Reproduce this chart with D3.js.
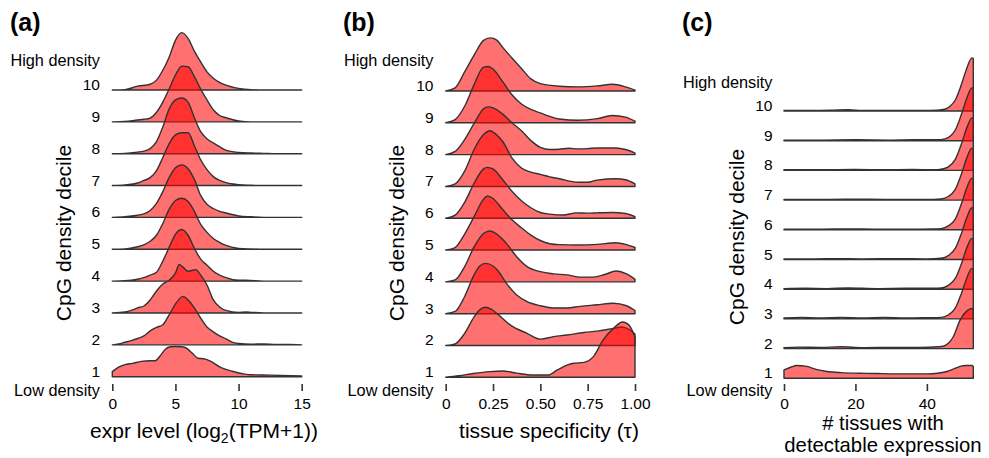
<!DOCTYPE html>
<html>
<head>
<meta charset="utf-8">
<script src="https://cdn.jsdelivr.net/npm/d3@7"></script>
<style>
  body { margin: 0; background: #fff; }
  svg { display: block; }
  text { font-family: "Liberation Sans", Arial, Helvetica, sans-serif; fill: #000; }
</style>
</head>
<body>
<svg id="chart" width="989" height="458"></svg>
<script>
// CpG density deciles, bottom (1 = low density) to top (10 = high density)
const deciles = [1, 2, 3, 4, 5, 6, 7, 8, 9, 10];

// Ridge heights are scaled densities: 1 = one row of the ridge stack.
// Each decile is a list of [x, scaled density] pairs.

// (a) expression level, log2(TPM+1)
const exprRidges = [
  [[0,0.16],[0.5,0.3],[1,0.38],[1.6,0.42],[2.3,0.48],[3,0.5],[3.4,0.5],[3.8,0.66],[4.2,0.86],[4.6,0.94],[5,0.95],[5.5,0.94],[5.9,0.89],[6.3,0.75],[6.8,0.58],[7.3,0.56],[7.8,0.48],[8.5,0.31],[9.5,0.17],[10.5,0.08],[11,0.06],[12.5,0.05],[15,0.02]],
  [[0,0],[0.5,0.03],[1,0.08],[1.5,0.13],[2,0.2],[2.5,0.28],[3,0.44],[3.5,0.55],[4,0.63],[4.5,0.94],[5,1.28],[5.6,1.52],[6,1.41],[6.5,1.16],[7,0.84],[7.5,0.56],[8,0.41],[8.5,0.28],[9,0.19],[9.6,0.07],[10,0.04],[11,0.02],[12,0.03],[13,0.01],[14,0.01],[15,0]],
  [[0,0],[1,0.03],[1.5,0.08],[2,0.16],[2.5,0.22],[3,0.41],[3.5,0.69],[4,0.91],[4.5,1.03],[5,1.25],[5.3,1.52],[5.6,1.44],[6,1.31],[6.6,1.36],[7,1.19],[7.5,0.88],[8,0.41],[8.5,0.19],[9,0.08],[10,0.02],[10.6,0.03],[11,0.02],[12,0],[15,0]],
  [[0,0],[1,0.01],[2,0.06],[2.5,0.11],[3,0.19],[3.5,0.28],[4,0.63],[4.5,1.06],[5,1.47],[5.5,1.62],[6,1.44],[6.5,1.03],[7,0.69],[7.5,0.5],[8,0.31],[8.5,0.19],[9,0.11],[10,0.03],[10.6,0.03],[11,0.02],[12,0],[15,0]],
  [[0,0],[1,0.01],[2,0.08],[2.5,0.14],[3,0.25],[3.5,0.44],[4,0.81],[4.5,1.25],[5,1.53],[5.5,1.6],[6,1.5],[6.5,1.19],[7,0.78],[7.5,0.53],[8,0.34],[8.5,0.22],[9,0.12],[10,0.03],[11,0.01],[12,0],[15,0]],
  [[0,0],[1,0.02],[2,0.07],[2.5,0.11],[3,0.22],[3.5,0.44],[4,0.81],[4.5,1.25],[5,1.56],[5.5,1.65],[6,1.53],[6.5,1.19],[7,0.69],[7.5,0.41],[8,0.28],[8.5,0.19],[9,0.14],[10,0.05],[11,0.02],[12,0],[15,0]],
  [[0,0],[1,0.02],[2,0.08],[2.5,0.16],[3,0.25],[3.5,0.47],[4,0.88],[4.5,1.31],[5,1.59],[5.5,1.66],[6,1.66],[6.5,1.25],[7,0.81],[7.5,0.5],[8,0.28],[8.5,0.16],[9,0.09],[10,0.03],[11,0.01],[12,0],[15,0]],
  [[0,0],[1,0.01],[2,0.05],[2.5,0.08],[3,0.16],[3.5,0.38],[4,0.84],[4.5,1.4],[5,1.69],[5.5,1.75],[6,1.62],[6.5,1.13],[7,0.69],[7.5,0.47],[8,0.34],[8.5,0.22],[9,0.11],[10,0.04],[11,0.02],[12,0.01],[13,0],[15,0]],
  [[0,0],[1,0.01],[2,0.06],[2.5,0.08],[3,0.12],[3.5,0.3],[4,0.62],[4.5,1.03],[5,1.47],[5.5,1.75],[6,1.73],[6.5,1.42],[7,1.03],[7.5,0.69],[8,0.38],[8.5,0.2],[9,0.13],[10,0.03],[11,0],[15,0]],
  [[0,0],[1,0.01],[2,0.12],[3,0.18],[3.5,0.31],[4,0.62],[4.5,1.03],[5,1.56],[5.5,1.8],[6,1.62],[6.5,1.22],[7,0.88],[7.5,0.57],[8,0.37],[9,0.15],[10,0.05],[11,0.01],[12,0],[15,0]]
];
const exprTicks = [0, 5, 10, 15];
const exprTickLabels = ["0", "5", "10", "15"];

// (b) tissue specificity, tau
const tauRidges = [
  [[0,0],[0.07,0.05],[0.146,0.12],[0.234,0.18],[0.3,0.2],[0.375,0.13],[0.46,0.07],[0.54,0.07],[0.59,0.23],[0.64,0.38],[0.675,0.44],[0.73,0.47],[0.78,0.65],[0.83,1.16],[0.885,1.53],[0.935,1.74],[0.97,1.63],[1,1.27]],
  [[0,0],[0.05,0.05],[0.1,0.38],[0.15,0.9],[0.18,1.12],[0.21,1.2],[0.24,1.14],[0.27,1.01],[0.34,0.65],[0.43,0.38],[0.5,0.2],[0.57,0.28],[0.64,0.33],[0.73,0.41],[0.8,0.45],[0.88,0.53],[0.93,0.58],[0.97,0.5],[1,0.36]],
  [[0,0],[0.05,0.07],[0.1,0.54],[0.15,1.22],[0.18,1.5],[0.21,1.58],[0.25,1.5],[0.28,1.32],[0.32,0.96],[0.375,0.59],[0.43,0.38],[0.5,0.25],[0.57,0.18],[0.64,0.18],[0.71,0.23],[0.8,0.28],[0.885,0.33],[0.955,0.25],[1,0.1]],
  [[0,0],[0.05,0.06],[0.1,0.48],[0.15,1.1],[0.2,1.52],[0.234,1.6],[0.27,1.5],[0.32,1.21],[0.375,0.79],[0.43,0.48],[0.5,0.32],[0.57,0.25],[0.64,0.22],[0.71,0.15],[0.78,0.15],[0.84,0.23],[0.9,0.34],[0.955,0.25],[1,0.08]],
  [[0,0],[0.05,0.08],[0.1,0.5],[0.15,1.05],[0.2,1.6],[0.22,1.7],[0.25,1.62],[0.3,1.28],[0.35,0.95],[0.4,0.7],[0.45,0.47],[0.5,0.3],[0.55,0.2],[0.6,0.17],[0.7,0.16],[0.8,0.18],[0.9,0.23],[0.95,0.18],[1,0.08]],
  [[0,0],[0.05,0.1],[0.1,0.5],[0.15,1.1],[0.2,1.55],[0.22,1.6],[0.25,1.55],[0.3,1.22],[0.35,0.85],[0.4,0.55],[0.45,0.33],[0.5,0.18],[0.55,0.13],[0.62,0.1],[0.69,0.17],[0.75,0.16],[0.8,0.17],[0.88,0.18],[0.95,0.15],[1,0.05]],
  [[0,0],[0.05,0.08],[0.1,0.48],[0.15,1.16],[0.2,1.63],[0.235,1.75],[0.25,1.71],[0.3,1.42],[0.35,0.9],[0.4,0.58],[0.45,0.45],[0.5,0.38],[0.55,0.3],[0.6,0.24],[0.7,0.13],[0.75,0.13],[0.8,0.2],[0.9,0.24],[0.95,0.21],[1,0.08]],
  [[0,0],[0.05,0.1],[0.1,0.47],[0.15,0.98],[0.2,1.44],[0.225,1.5],[0.25,1.47],[0.3,1.28],[0.35,1.0],[0.4,0.75],[0.45,0.44],[0.5,0.23],[0.55,0.16],[0.6,0.17],[0.65,0.2],[0.7,0.18],[0.75,0.19],[0.8,0.21],[0.9,0.21],[0.95,0.16],[1,0.05]],
  [[0,0],[0.05,0.1],[0.1,0.52],[0.15,1.2],[0.2,1.75],[0.225,1.77],[0.25,1.69],[0.3,1.3],[0.35,0.88],[0.4,0.59],[0.45,0.42],[0.5,0.31],[0.55,0.2],[0.6,0.12],[0.7,0.08],[0.8,0.13],[0.88,0.23],[0.95,0.18],[1,0.05]],
  [[0,0],[0.05,0.1],[0.1,0.6],[0.15,1.13],[0.2,1.59],[0.235,1.67],[0.27,1.6],[0.3,1.38],[0.35,1.04],[0.4,0.71],[0.45,0.38],[0.5,0.23],[0.6,0.15],[0.7,0.13],[0.8,0.16],[0.88,0.21],[0.95,0.13],[1,0.03]]
];
const tauTicks = [0, 0.25, 0.5, 0.75, 1];
const tauTickLabels = ["0", "0.25", "0.50", "0.75", "1.00"];

// (c) number of tissues with detectable expression
const tissueRidges = [
  [[0,0.28],[2,0.38],[3.5,0.43],[6.4,0.4],[9,0.3],[12,0.23],[16,0.19],[21,0.17],[26,0.16],[31,0.15],[36,0.15],[40,0.15],[43,0.17],[45.6,0.23],[48,0.34],[49.3,0.4],[51,0.43],[52.6,0.43],[53,0.4]],
  [[0,0.03],[4,0.05],[10,0.04],[16,0.06],[22,0.03],[30,0.04],[38,0.04],[43,0.06],[44.6,0.08],[46,0.18],[47.4,0.4],[49.3,0.96],[51.2,1.27],[52.6,1.35],[53,1.32]],
  [[0,0.03],[5,0.05],[10,0.03],[16,0.05],[22,0.03],[28,0.05],[34,0.03],[40,0.04],[44,0.05],[46,0.13],[48,0.37],[49.8,0.9],[51.2,1.38],[52.6,1.7],[53,1.68]],
  [[0,0.02],[6,0.03],[12,0.02],[18,0.04],[26,0.02],[34,0.03],[42,0.03],[44,0.04],[46,0.13],[48,0.37],[49.8,0.9],[51.2,1.4],[52.6,1.71],[53,1.69]],
  [[0,0.02],[8,0.02],[15,0.03],[22,0.02],[32,0.03],[40,0.02],[44,0.04],[46,0.13],[48,0.38],[49.8,0.92],[51.2,1.42],[52.6,1.74],[53,1.72]],
  [[0,0.02],[10,0.02],[18,0.03],[26,0.02],[34,0.02],[42,0.03],[44,0.04],[46,0.13],[48,0.37],[49.8,0.92],[51.2,1.42],[52.6,1.74],[53,1.72]],
  [[0,0.02],[9,0.02],[17,0.03],[24,0.03],[32,0.02],[40,0.02],[44,0.04],[46,0.12],[48,0.37],[49.8,0.92],[51.2,1.43],[52.6,1.75],[53,1.73]],
  [[0,0.02],[10,0.02],[20,0.03],[28,0.02],[36,0.03],[42,0.02],[44,0.04],[46,0.12],[48,0.38],[49.8,0.93],[51.2,1.44],[52.6,1.77],[53,1.75]],
  [[0,0.02],[10,0.02],[20,0.03],[30,0.02],[36,0.03],[43,0.03],[45,0.06],[46.5,0.15],[48,0.37],[49.8,0.93],[51.2,1.44],[52.6,1.78],[53,1.76]],
  [[0,0.02],[8,0.02],[14,0.03],[18,0.04],[22,0.02],[30,0.02],[38,0.02],[43,0.03],[45,0.06],[46.5,0.16],[48,0.38],[49.8,0.94],[51.2,1.45],[52.6,1.79],[53,1.77]]
];
const tissueTicks = [0, 20, 40];
const tissueTickLabels = ["0", "20", "40"];

const svg = d3.select("#chart");
const FILL = "#ff0000", FILL_OPACITY = 0.56, LINE = "#333333";

const panels = [
  { letter: "(a)", letterX: 10, ridges: exprRidges, domain: [0, 15], xRange: [112.3, 301.7],
    rowRange: [376.7, 90], ticks: exprTicks, tickLabels: exprTickLabels, labelRight: 100,
    highY: 66, lowY: 396, yTitleX: 70.5, yTitleY: 233, titleX: 204, titleY: 438, title: "expr" },
  { letter: "(b)", letterX: 343, ridges: tauRidges, domain: [0, 1], xRange: [445.7, 635],
    rowRange: [377.3, 91], ticks: tauTicks, tickLabels: tauTickLabels, labelRight: 433.5,
    highY: 66, lowY: 396, yTitleX: 404, yTitleY: 233, titleX: 549, titleY: 437.5, title: "tau" },
  { letter: "(c)", letterX: 682, ridges: tissueRidges, domain: [0, 53], xRange: [784, 973.3],
    rowRange: [378.3, 111], ticks: tissueTicks, tickLabels: tissueTickLabels, labelRight: 772.5,
    highY: 88, lowY: 396, yTitleX: 744, yTitleY: 237, titleX: 883, titleY: 429.5, title: "tissues" }
];

panels.forEach(p => {
  const g = svg.append("g");
  const x = d3.scaleLinear().domain(p.domain).range(p.xRange);
  const row = d3.scalePoint().domain(deciles).range(p.rowRange);
  const ridgeH = d3.scaleLinear().domain([0, 1]).range([0, Math.abs(row(2) - row(1))]);

  // ridges: top decile first so lower rows overlay the ones above
  deciles.slice().reverse().forEach(dec => {
    const base = row(dec);
    const area = d3.area()
      .curve(d3.curveMonotoneX)
      .x(d => x(d[0]))
      .y0(base)
      .y1(d => base - ridgeH(d[1]));
    g.append("path")
      .attr("d", area(p.ridges[dec - 1]))
      .attr("fill", FILL)
      .attr("fill-opacity", FILL_OPACITY)
      .attr("stroke", LINE)
      .attr("stroke-width", 1.4)
      .attr("stroke-linejoin", "round");
  });

  // decile labels
  g.selectAll("text.dec").data(deciles).join("text")
    .attr("class", "dec")
    .attr("x", p.labelRight)
    .attr("y", d => row(d))
    .attr("text-anchor", "end")
    .style("font-size", "15.5px")
    .text(d => d);

  g.append("text").attr("x", p.labelRight).attr("y", p.highY)
    .attr("text-anchor", "end").style("font-size", "16.3px").text("High density");
  g.append("text").attr("x", p.labelRight).attr("y", p.lowY)
    .attr("text-anchor", "end").style("font-size", "16.3px").text("Low density");

  // x axis: ticks only, no domain line
  const axis = d3.axisBottom(x)
    .tickValues(p.ticks)
    .tickFormat((d, i) => p.tickLabels[i])
    .tickSize(7)
    .tickPadding(6.5);
  const ax = g.append("g").attr("transform", "translate(0,384)").call(axis);
  ax.select(".domain").remove();
  ax.selectAll(".tick line").attr("stroke", LINE).attr("stroke-width", 1.6);
  ax.selectAll(".tick text")
    .style("font-family", "'Liberation Sans', Arial, sans-serif")
    .style("font-size", "15.5px").attr("fill", "#000");

  // y axis title
  g.append("text")
    .attr("transform", `translate(${p.yTitleX},${p.yTitleY}) rotate(-90)`)
    .attr("text-anchor", "middle")
    .style("font-size", "21px")
    .text("CpG density decile");

  // panel letter
  g.append("text").attr("x", p.letterX).attr("y", 31)
    .style("font-size", "25px").style("font-weight", "bold").text(p.letter);

  // x axis title
  if (p.title === "expr") {
    const t = g.append("text").attr("x", p.titleX).attr("y", p.titleY)
      .attr("text-anchor", "middle").style("font-size", "21px");
    t.append("tspan").text("expr level (log");
    t.append("tspan").attr("dy", 5).style("font-size", "14px").text("2");
    t.append("tspan").attr("dy", -5).text("(TPM+1))");
  } else if (p.title === "tau") {
    g.append("text").attr("x", p.titleX).attr("y", p.titleY)
      .attr("text-anchor", "middle").style("font-size", "21px")
      .text("tissue specificity (\u03c4)");
  } else {
    g.append("text").attr("x", p.titleX).attr("y", p.titleY)
      .attr("text-anchor", "middle").style("font-size", "20.3px").text("# tissues with");
    g.append("text").attr("x", p.titleX).attr("y", p.titleY + 22.8)
      .attr("text-anchor", "middle").style("font-size", "20.3px").text("detectable expression");
  }
});
</script>
</body>
</html>
